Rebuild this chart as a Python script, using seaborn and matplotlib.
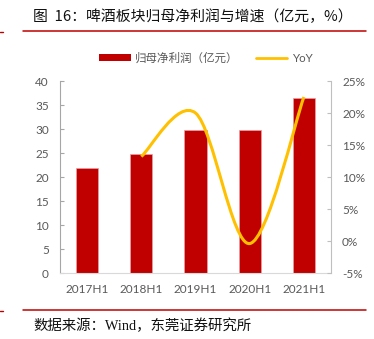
import numpy as np
import pandas as pd
import matplotlib
matplotlib.use("Agg")
import matplotlib.pyplot as plt
import seaborn as sns
from matplotlib.path import Path
from matplotlib.patches import PathPatch, Patch
from matplotlib.lines import Line2D
from matplotlib.ticker import FuncFormatter

# ---- data ----
categories = ["2017H1", "2018H1", "2019H1", "2020H1", "2021H1"]
profit = [21.9, 24.8, 29.85, 29.7, 36.45]          # 归母净利润（亿元）
yoy_categories = ["2018H1", "2019H1", "2020H1", "2021H1"]
yoy = [13.2, 20.0, -0.4, 22.5]                      # YoY (%)
left_ticks = [0, 5, 10, 15, 20, 25, 30, 35, 40]
right_ticks = [-5, 0, 5, 10, 15, 20, 25]

title = "图  16：啤酒板块归母净利润与增速（亿元，%）"
source = "数据来源：Wind，东莞证券研究所"
bar_label = "归母净利润（亿元）"
line_label = "YoY"

RED = "#C00000"
YELLOW = "#FFC000"
GRAY_TXT = "#595959"
SPINE = "#BFBFBF"

sns.set_theme(style="white")
plt.rcParams["font.family"] = ["Lato", "Noto Sans CJK SC", "DejaVu Sans"]

W, H = 374, 339
fig = plt.figure(figsize=(W / 100, H / 100), dpi=100)
ax = fig.add_axes([60 / W, 1 - 273 / H, (331 - 60) / W, (273 - 81) / H])

df = pd.DataFrame({"cat": categories, "profit": profit})
sns.barplot(data=df, x="cat", y="profit", color=RED, saturation=1, width=0.41,
            ax=ax, edgecolor="#E8A0A0", linewidth=0.5)
ax.set_xlim(-0.5, len(categories) - 0.5)
ax.set_ylim(0, 40)
ax.set_yticks(left_ticks)
ax.set_xlabel("")
ax.set_ylabel("")

ax2 = ax.twinx()
ax2.set_ylim(-5, 25)
ax2.set_yticks(right_ticks)
ax2.yaxis.set_major_formatter(FuncFormatter(lambda v, p: f"{v:.0f}%"))

# smoothed YoY line (Bezier through data points, drawn in data coordinates)
xs = np.array([categories.index(c) for c in yoy_categories], dtype=float)
ys = np.array(yoy, dtype=float)
P = np.column_stack([xs, ys])
verts = [tuple(P[0])]
codes = [Path.MOVETO]
n = len(P)
for i in range(n - 1):
    p0 = P[i - 1] if i > 0 else P[i]
    p1 = P[i]
    p2 = P[i + 1]
    p3 = P[i + 2] if i + 2 < n else P[i + 1]
    c1 = p1 + (p2 - p0) / 6.0
    c2 = p2 - (p3 - p1) / 6.0
    verts += [tuple(c1), tuple(c2), tuple(p2)]
    codes += [Path.CURVE4] * 3
patch = PathPatch(Path(verts, codes), facecolor="none", edgecolor=YELLOW,
                  lw=2.2, capstyle="butt", joinstyle="round")
ax2.add_patch(patch)

for a in (ax, ax2):
    for s in a.spines.values():
        s.set_visible(False)
ax.spines["left"].set_visible(True)
ax.spines["left"].set_color("#A6A6A6")
ax.spines["left"].set_linewidth(0.8)
ax.spines["bottom"].set_visible(True)
ax.spines["bottom"].set_color("#D9D9D9")
ax.spines["bottom"].set_linewidth(0.8)
ax2.spines["right"].set_visible(True)
ax2.spines["right"].set_color(SPINE)
ax2.spines["right"].set_linewidth(0.8)

ax.tick_params(axis="y", direction="in", length=3, width=0.8, color="#A6A6A6",
               labelsize=8.5, labelcolor=GRAY_TXT, pad=8, left=True)
ax.tick_params(axis="x", length=0, labelsize=8.5, labelcolor=GRAY_TXT, pad=8)
ax2.tick_params(axis="y", direction="in", length=3, width=0.8, color=SPINE,
                labelsize=8.5, labelcolor=GRAY_TXT, pad=8, right=True)
ax.grid(False)
ax2.grid(False)

# legend
handles = [Patch(facecolor=RED, edgecolor="none"),
           Line2D([0], [0], color=YELLOW, lw=2)]
leg = fig.legend(handles, [bar_label, line_label], loc="center",
                 bbox_to_anchor=(206 / W, 1 - 58 / H), ncol=2, frameon=False,
                 fontsize=8.3, handlelength=2.7, handleheight=0.55,
                 columnspacing=1.5, handletextpad=0.4)
for t in leg.get_texts():
    t.set_color(GRAY_TXT)
    t.set_family(["Noto Sans CJK SC", "DejaVu Sans"])
leg.get_texts()[1].set_family(["Lato", "DejaVu Sans"])

# title, rules and source
fig.text(33 / W, 1 - 17 / H, title, fontsize=10.7, color="#111111",
         ha="left", va="center", family=["Noto Sans CJK SC", "DejaVu Sans"])
fig.add_artist(Line2D([23 / W, 366 / W], [1 - 31 / H, 1 - 31 / H],
                      color=RED, lw=1.1, transform=fig.transFigure))
fig.add_artist(Line2D([23 / W, 366 / W], [1 - 310 / H, 1 - 310 / H],
                      color=RED, lw=1.1, transform=fig.transFigure))
fig.add_artist(Line2D([0, 3 / W], [1 - 32 / H, 1 - 32 / H],
                      color=RED, lw=1.0, transform=fig.transFigure))
fig.add_artist(Line2D([0, 3 / W], [1 - 311 / H, 1 - 311 / H],
                      color=RED, lw=1.0, transform=fig.transFigure))
fig.text(33 / W, 1 - 326 / H, source, fontsize=10.4, color="#111111",
         ha="left", va="center",
         family=["Liberation Serif", "Noto Sans CJK SC", "DejaVu Sans"])

fig.savefig("out.png", dpi=100)
